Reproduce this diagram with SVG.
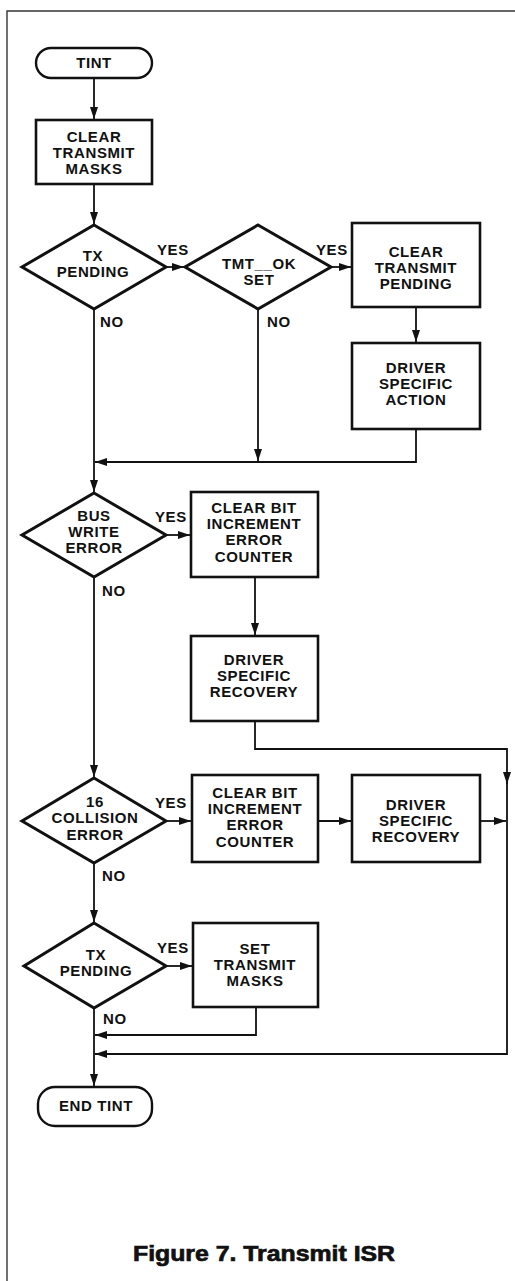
<svg xmlns="http://www.w3.org/2000/svg" width="515" height="1281" viewBox="0 0 515 1281">
<style>
.box{fill:#fff;stroke:#111;stroke-width:2.6}
.dia{fill:#fff;stroke:#111;stroke-width:3;stroke-linejoin:miter}
.term{fill:#fff;stroke:#111;stroke-width:2.4}
.conn{fill:none;stroke:#111;stroke-width:1.8}
.frame{fill:none;stroke:#333;stroke-width:1.4}
text{font-family:"Liberation Sans",Arial,Helvetica,sans-serif;font-weight:bold;font-size:15px;fill:#111;letter-spacing:0.6px}
.c{text-anchor:middle}
.cap{font-size:22px;font-weight:900;stroke:#111;stroke-width:0.7;letter-spacing:0}
</style>
<defs>
<marker id="ah" markerUnits="userSpaceOnUse" markerWidth="13" markerHeight="9" refX="12" refY="4" orient="auto">
<path d="M0,0 L12,4 L0,8 z" fill="#111"/>
</marker>
</defs>
<rect width="515" height="1281" fill="#fff"/>
<path class="frame" d="M515,11 H7 V1281"/>

<g id="connectors">
<path class="conn" d="M94,78 V119" marker-end="url(#ah)"/>
<path class="conn" d="M94,184 V224" marker-end="url(#ah)"/>
<path class="conn" d="M166,267 H184" marker-end="url(#ah)"/>
<path class="conn" d="M331,267 H351" marker-end="url(#ah)"/>
<path class="conn" d="M416,307 V342" marker-end="url(#ah)"/>
<path class="conn" d="M416,429 V462 H95" marker-end="url(#ah)"/>
<path class="conn" d="M258,309 V461" marker-end="url(#ah)"/>
<path class="conn" d="M94,309 V492" marker-end="url(#ah)"/>
<path class="conn" d="M166,535 H190" marker-end="url(#ah)"/>
<path class="conn" d="M255,577 V635" marker-end="url(#ah)"/>
<path class="conn" d="M255,721 V749 H507 V784" marker-end="url(#ah)"/>
<path class="conn" d="M507,780 V1054 H95" marker-end="url(#ah)"/>
<path class="conn" d="M94,577 V777" marker-end="url(#ah)"/>
<path class="conn" d="M166,821 H191" marker-end="url(#ah)"/>
<path class="conn" d="M318,821 H351" marker-end="url(#ah)"/>
<path class="conn" d="M480,821 H506" marker-end="url(#ah)"/>
<path class="conn" d="M94,863 V922" marker-end="url(#ah)"/>
<path class="conn" d="M166,966 H192" marker-end="url(#ah)"/>
<path class="conn" d="M256,1007 V1035 H95" marker-end="url(#ah)"/>
<path class="conn" d="M94,1008 V1086" marker-end="url(#ah)"/>
<text x="157" y="255">YES</text>
<text x="316" y="255">YES</text>
<text x="100" y="327">NO</text>
<text x="267" y="327">NO</text>
<text x="155" y="522">YES</text>
<text x="102" y="596">NO</text>
<text x="155" y="808">YES</text>
<text x="102" y="881">NO</text>
<text x="157" y="953">YES</text>
<text x="103" y="1024">NO</text>
</g>

<g id="tint">
<rect class="term" x="36" y="48" width="116" height="30" rx="15" ry="15"/>
<text class="c" x="94" y="68">TINT</text>
</g>

<g id="clear_transmit_masks">
<rect class="box" x="36" y="120" width="116" height="64"/>
<text class="c" x="94" y="142">CLEAR</text>
<text class="c" x="94" y="158">TRANSMIT</text>
<text class="c" x="94" y="174">MASKS</text>
</g>

<g id="tx_pending_1">
<polygon class="dia" points="94,225 166,267 94,309 22,267"/>
<text class="c" x="93" y="261">TX</text>
<text class="c" x="93" y="277">PENDING</text>
</g>

<g id="tmt_ok_set">
<polygon class="dia" points="258,225 331,267 258,309 185,267"/>
<text class="c" x="259" y="269">TMT__OK</text>
<text class="c" x="259" y="285">SET</text>
</g>

<g id="clear_transmit_pending">
<rect class="box" x="352" y="223" width="128" height="84"/>
<text class="c" x="416" y="257">CLEAR</text>
<text class="c" x="416" y="273">TRANSMIT</text>
<text class="c" x="416" y="289">PENDING</text>
</g>

<g id="driver_specific_action">
<rect class="box" x="352" y="343" width="128" height="86"/>
<text class="c" x="416" y="373">DRIVER</text>
<text class="c" x="416" y="389">SPECIFIC</text>
<text class="c" x="416" y="405">ACTION</text>
</g>

<g id="bus_write_error">
<polygon class="dia" points="94,493 166,535 94,577 22,535"/>
<text class="c" x="94" y="521">BUS</text>
<text class="c" x="94" y="537">WRITE</text>
<text class="c" x="94" y="553">ERROR</text>
</g>

<g id="clear_bit_1">
<rect class="box" x="191" y="492" width="127" height="85"/>
<text class="c" x="254" y="513">CLEAR BIT</text>
<text class="c" x="254" y="529">INCREMENT</text>
<text class="c" x="254" y="545">ERROR</text>
<text class="c" x="254" y="562">COUNTER</text>
</g>

<g id="driver_specific_recovery_1">
<rect class="box" x="191" y="636" width="127" height="85"/>
<text class="c" x="254" y="665">DRIVER</text>
<text class="c" x="254" y="681">SPECIFIC</text>
<text class="c" x="254" y="697">RECOVERY</text>
</g>

<g id="collision_error">
<polygon class="dia" points="94,778 166,821 94,863 22,821"/>
<text class="c" x="95" y="807">16</text>
<text class="c" x="95" y="823">COLLISION</text>
<text class="c" x="95" y="840">ERROR</text>
</g>

<g id="clear_bit_2">
<rect class="box" x="192" y="775" width="126" height="87"/>
<text class="c" x="255" y="798">CLEAR BIT</text>
<text class="c" x="255" y="814">INCREMENT</text>
<text class="c" x="255" y="830">ERROR</text>
<text class="c" x="255" y="847">COUNTER</text>
</g>

<g id="driver_specific_recovery_2">
<rect class="box" x="352" y="775" width="128" height="87"/>
<text class="c" x="416" y="810">DRIVER</text>
<text class="c" x="416" y="826">SPECIFIC</text>
<text class="c" x="416" y="842">RECOVERY</text>
</g>

<g id="tx_pending_2">
<polygon class="dia" points="94,923 166,966 94,1008 24,966"/>
<text class="c" x="96" y="960">TX</text>
<text class="c" x="96" y="976">PENDING</text>
</g>

<g id="set_transmit_masks">
<rect class="box" x="193" y="923" width="125" height="84"/>
<text class="c" x="255" y="954">SET</text>
<text class="c" x="255" y="970">TRANSMIT</text>
<text class="c" x="255" y="986">MASKS</text>
</g>

<g id="end_tint">
<rect class="term" x="38" y="1087" width="114" height="39" rx="17" ry="17"/>
<text class="c" x="96" y="1111">END TINT</text>
</g>

<text class="c cap" x="264" y="1261" textLength="262" lengthAdjust="spacingAndGlyphs">Figure 7. Transmit ISR</text>
</svg>
